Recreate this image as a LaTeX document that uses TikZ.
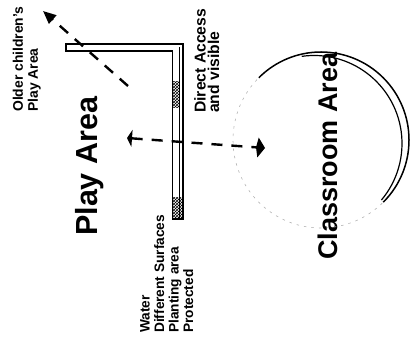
\documentclass[tikz,border=0pt]{standalone}
\usepackage{fontspec}
\setmainfont{Liberation Sans}
\usetikzlibrary{arrows.meta,patterns}
\begin{document}
\begin{tikzpicture}[x=1pt,y=1pt,
  lbl/.style={rotate=90,inner sep=0pt,align=left,anchor=north west},
  big/.style={rotate=90,inner sep=0pt,anchor=base west},
  wall/.style={draw=black,line width=1.3pt,line join=miter},
  dasharrow/.style={line width=2.4pt,dash pattern=on 11pt off 9pt},
  faint/.style={draw=gray!60,line width=0.6pt,dash pattern=on 2.5pt off 5pt}]
\useasboundingbox (0,0) rectangle (411,342);

% labels, all set reading upward
\node[lbl,font=\bfseries\fontsize{13.9}{15}\selectfont] (older) at (12.5,230) {Older children's\\Play Area};
\node[lbl,font=\bfseries\fontsize{15.7}{13.5}\selectfont] (direct) at (194,229) {Direct Access\\and visible};
\node[lbl,font=\bfseries\fontsize{13.7}{14.5}\selectfont] (uses) at (140,9) {Water\\Different Surfaces\\Planting area\\Protected};
\node[big,font=\bfseries\fontsize{30.5}{32}\selectfont] (play) at (97,106) {Play Area};
\node[big,font=\bfseries\fontsize{27}{29}\selectfont] (class) at (337,82) {Classroom Area};

% L-shaped wall with planted strips
\fill[pattern=crosshatch] (173,234) rectangle (179,260);
\fill[pattern=crosshatch] (173,123) rectangle (182,144);
\draw[wall] (66,298) -- (183,298) -- (183,123) -- (172.5,123) -- (172.5,291) -- (66,291) -- cycle;
\draw[line width=0.8pt] (179.5,295) -- (179.5,123);

% classroom circle
\draw[faint] (321,202) circle[radius=88pt];
\draw[line width=1.5pt] ([shift={(321,202)}]135:88pt) arc[start angle=135,end angle=-45,radius=88pt];
\draw[line width=1.2pt] ([shift={(314,198.5)}]98:88pt) arc[start angle=98,end angle=-40,radius=88pt];

% connectors
\coordinate (oc0) at (128,256);
\coordinate (oc1) at (43,331);
\draw[dasharrow,-{Triangle[length=13pt,width=11pt]}] (oc0) -- (oc1);

\coordinate (hl) at (127,204);
\coordinate (hr) at (265,194);
\draw[dasharrow,{Triangle[length=5pt,width=17pt]}-{Kite[length=9pt,width=20pt,inset=2pt]}] (hl) -- (hr);
\end{tikzpicture}
\end{document}
